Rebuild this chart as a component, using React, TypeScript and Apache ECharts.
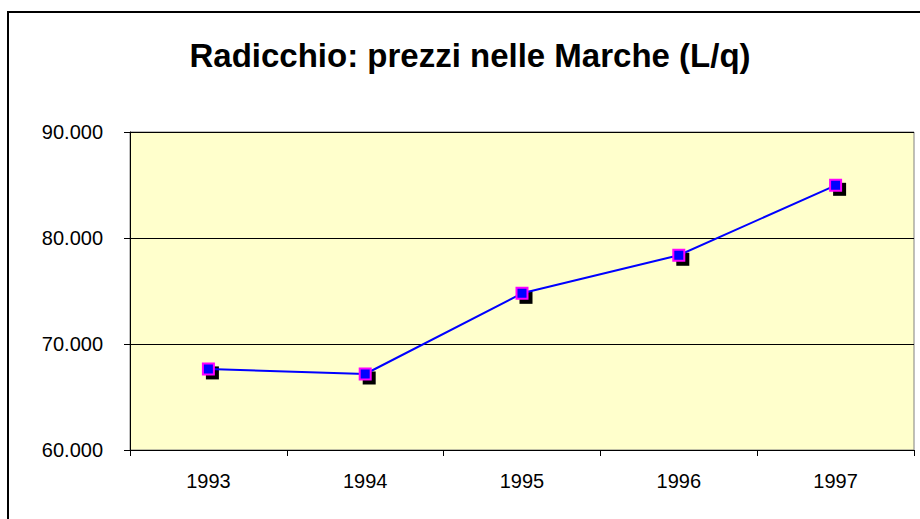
import React, { useEffect, useRef } from "react";
import * as echarts from "echarts";

const years: string[] = ["1993", "1994", "1995", "1996", "1997"];
const prices: number[] = [67650, 67170, 74780, 78370, 84970];
const yMin = 60000;
const yMax = 90000;
const yStep = 10000;
const titleText = "Radicchio: prezzi nelle Marche (L/q)";

const fmt = (v: number) => String(v).replace(/\B(?=(\d{3})+(?!\d))/g, ".");

export default function App() {
  const ref = useRef<HTMLDivElement>(null);
  useEffect(() => {
    if (!ref.current) return;
    const chart = echarts.init(ref.current, null, { renderer: "svg" });
    const font = "'Liberation Sans', Arial, sans-serif";
    chart.setOption({
      animation: false,
      backgroundColor: "#ffffff",
      graphic: [
        {
          type: "rect",
          shape: { x: 8, y: 12, width: 1000, height: 1000 },
          style: { fill: "none", stroke: "#000000", lineWidth: 2 },
          z: 100,
        },
        {
          type: "text",
          x: 470,
          y: 55,
          style: {
            text: titleText,
            fontFamily: font,
            fontWeight: "bold",
            fontSize: 33,
            fill: "#000000",
            align: "center",
            verticalAlign: "middle",
          },
        },
      ],
      grid: {
        left: 130,
        top: 132,
        right: 6,
        bottom: 69,
        show: true,
        backgroundColor: "#FFFFCC",
        borderColor: "#808080",
        borderWidth: 1,
      },
      xAxis: {
        type: "category",
        data: years,
        boundaryGap: true,
        axisLine: { show: true, lineStyle: { color: "#000000", width: 1 } },
        axisTick: { show: true, inside: false, length: 6, alignWithLabel: false, lineStyle: { color: "#000000" } },
        axisLabel: { color: "#000000", fontSize: 20, fontFamily: font, margin: 21 },
        splitLine: { show: false },
      },
      yAxis: {
        type: "value",
        min: yMin,
        max: yMax,
        interval: yStep,
        axisLine: { show: true, lineStyle: { color: "#000000", width: 1 } },
        axisTick: { show: true, inside: false, length: 6, lineStyle: { color: "#000000" } },
        axisLabel: { color: "#000000", fontSize: 20, fontFamily: font, margin: 27, formatter: (v: number) => fmt(v) },
        splitLine: { show: true, lineStyle: { color: "#000000", width: 1 } },
      },
      series: [
        {
          type: "scatter",
          data: prices,
          symbol: "rect",
          symbolSize: 13,
          symbolOffset: [4, 4],
          itemStyle: { color: "#000000", opacity: 1 },
          z: 2,
          silent: true,
        },
        {
          type: "line",
          data: prices,
          symbol: "rect",
          symbolSize: 11,
          showSymbol: true,
          lineStyle: { color: "#0000FF", width: 2 },
          itemStyle: { color: "#0000FF", borderColor: "#FF00FF", borderWidth: 2 },
          z: 3,
        },
      ],
    });
    return () => chart.dispose();
  }, []);
  return (
    <div
      ref={ref}
      style={{ position: "absolute", left: 0, top: 0, width: 920, height: 519 }}
    />
  );
}
